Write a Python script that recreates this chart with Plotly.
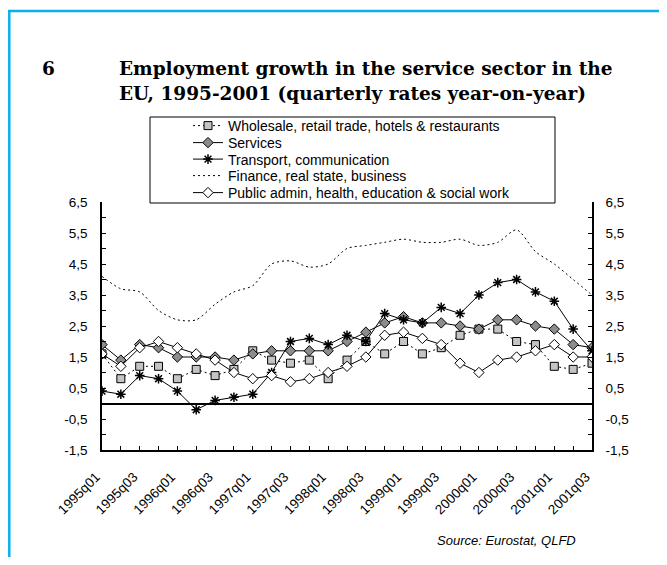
import plotly.graph_objects as go

quarters = [f"{y}q0{q}" for y in range(1995, 2002) for q in range(1, 5)][:27]
tick_text = [q if i % 2 == 0 else "" for i, q in enumerate(quarters)]

wholesale = [1.6, 0.8, 1.2, 1.2, 0.8, 1.1, 0.9, 1.1, 1.7, 1.4, 1.3, 1.4, 0.8, 1.4,
             2.0, 1.6, 2.0, 1.6, 1.8, 2.2, 2.4, 2.4, 2.0, 1.9, 1.2, 1.1, 1.3]
services = [1.9, 1.4, 1.9, 1.8, 1.5, 1.5, 1.5, 1.4, 1.6, 1.7, 1.7, 1.7, 1.7, 2.0,
            2.3, 2.6, 2.8, 2.6, 2.6, 2.5, 2.4, 2.7, 2.7, 2.5, 2.4, 1.9, 1.8]
transport = [0.4, 0.3, 0.9, 0.8, 0.4, -0.2, 0.1, 0.2, 0.3, 1.0, 2.0, 2.1, 1.9, 2.2,
             2.0, 2.9, 2.7, 2.6, 3.1, 2.9, 3.5, 3.9, 4.0, 3.6, 3.3, 2.4, 1.7]
finance = [4.1, 3.7, 3.6, 3.0, 2.7, 2.7, 3.2, 3.6, 3.8, 4.5, 4.6, 4.4, 4.5, 5.0,
           5.1, 5.2, 5.3, 5.2, 5.2, 5.3, 5.1, 5.2, 5.6, 4.9, 4.5, 4.0, 3.5]
public = [1.6, 1.2, 1.8, 2.0, 1.8, 1.6, 1.4, 1.0, 0.8, 0.9, 0.7, 0.8, 1.0, 1.2,
          1.5, 2.2, 2.3, 2.1, 1.9, 1.3, 1.0, 1.4, 1.5, 1.7, 1.9, 1.5, 1.5]

y_vals = [-1.5 + 0.5 * i for i in range(17)]
y_text = [(f"{v:.1f}".replace(".", ",") if abs(v * 2) % 2 == 1 else "") for v in y_vals]

# page body has an 8px margin; layout numbers below are in window pixels
OFF = 8
W, H = 667 - 2 * OFF, 565 - 2 * OFF
L, T, PW, PH = 94, 194, 490, 248


def px(x):
    return (x - OFF - L) / PW


def py(y):
    return (T + PH - (y - OFF)) / PH


SANS = "Liberation Sans, Arial, sans-serif"
SERIF = "DejaVu Serif, serif"

fig = go.Figure()
fig.add_trace(go.Scatter(
    x=quarters, y=wholesale, name="Wholesale, retail trade, hotels & restaurants", legend="legend",
    mode="lines+markers", line=dict(color="black", width=1, dash="2px,3px"),
    marker=dict(symbol="square", size=8, color="#C4C4C4", line=dict(color="black", width=1))))
fig.add_trace(go.Scatter(
    x=quarters, y=services, name="Services", legend="legend2",
    mode="lines+markers", line=dict(color="black", width=1),
    marker=dict(symbol="diamond", size=8, color="#8C8C8C", line=dict(color="black", width=1))))
fig.add_trace(go.Scatter(
    x=quarters, y=transport, name="Transport, communication", legend="legend3",
    mode="lines+markers", line=dict(color="black", width=1),
    marker=dict(symbol="asterisk-open", size=8, color="black", line=dict(color="black", width=1.5))))
fig.add_trace(go.Scatter(
    x=quarters, y=finance, name="Finance, real state, business", yaxis="y2", legend="legend4",
    mode="lines", line=dict(color="black", width=1, dash="2px,3px", shape="spline", smoothing=0.8)))
fig.add_trace(go.Scatter(
    x=quarters, y=public, name="Public admin, health, education & social work", legend="legend5",
    mode="lines+markers", line=dict(color="black", width=1),
    marker=dict(symbol="diamond", size=8, color="white", line=dict(color="black", width=1))))

axis_font = dict(family=SANS, size=13.5, color="black")
yaxis_common = dict(
    range=[-1.5, 6.5], tickvals=y_vals, ticktext=y_text, ticks="inside", ticklen=4,
    tickcolor="black", showline=True, linecolor="black", linewidth=1.5,
    showgrid=False, tickfont=axis_font, fixedrange=True)

legend_rows = [126, 143, 159.5, 176, 193]
legends = {}
for i, yr in enumerate(legend_rows):
    key = "legend" if i == 0 else f"legend{i + 1}"
    legends[key] = dict(x=px(188), y=py(yr), xanchor="left", yanchor="middle",
                        bgcolor="rgba(0,0,0,0)", borderwidth=0,
                        font=dict(family=SANS, size=14, color="black"))

fig.update_layout(
    width=W, height=H, margin=dict(l=L, r=W - L - PW, t=T, b=H - T - PH),
    paper_bgcolor="white", plot_bgcolor="white",
    font=dict(family=SANS, color="black"),
    showlegend=True,
    **legends,
    xaxis=dict(type="category", range=[0, 26], tickvals=quarters, ticktext=tick_text,
               ticks="inside", ticklen=4, tickcolor="black", tickangle=-45,
               showline=True, linecolor="black", linewidth=1.5, showgrid=False,
               tickfont=axis_font, ticklabelstandoff=12, ticklabelshift=-6),
    yaxis=dict(**yaxis_common, zeroline=True, zerolinecolor="black", zerolinewidth=1.5,
               ticklabelstandoff=10),
    yaxis2=dict(**yaxis_common, overlaying="y", side="right", anchor="x", zeroline=False,
                ticklabelstandoff=9),
    shapes=[
        dict(type="rect", xref="paper", yref="paper", x0=px(150), x1=px(555), y0=py(203), y1=py(117),
             line=dict(color="black", width=1)),
        dict(type="line", xref="paper", yref="paper", x0=px(8), x1=px(700), y0=py(11), y1=py(11),
             line=dict(color="#0AB0EE", width=2.5)),
        dict(type="line", xref="paper", yref="paper", x0=px(9.3), x1=px(9.3), y0=py(10), y1=py(600),
             line=dict(color="#0AB0EE", width=2.5)),
    ],
    annotations=[
        dict(text="<b>6</b>", xref="paper", yref="paper", x=px(40), y=py(69), xanchor="left",
             yanchor="middle", showarrow=False,
             font=dict(family=SERIF, size=18.5, color="black")),
        dict(text="<b>Employment growth in the service sector in the</b>", xref="paper", yref="paper",
             x=px(117), y=py(69), xanchor="left", yanchor="middle", showarrow=False,
             font=dict(family=SERIF, size=18.5, color="black")),
        dict(text="<b>EU, 1995-2001 (quarterly rates year-on-year)</b>", xref="paper", yref="paper",
             x=px(117), y=py(93), xanchor="left", yanchor="middle", showarrow=False,
             font=dict(family=SERIF, size=18.5, color="black")),
        dict(text="<i>Source: Eurostat, QLFD</i>", xref="paper", yref="paper",
             x=px(578), y=py(540), xanchor="right", yanchor="middle", showarrow=False,
             font=dict(family=SANS, size=13, color="black")),
    ],
)

fig.write_html("out.html")
